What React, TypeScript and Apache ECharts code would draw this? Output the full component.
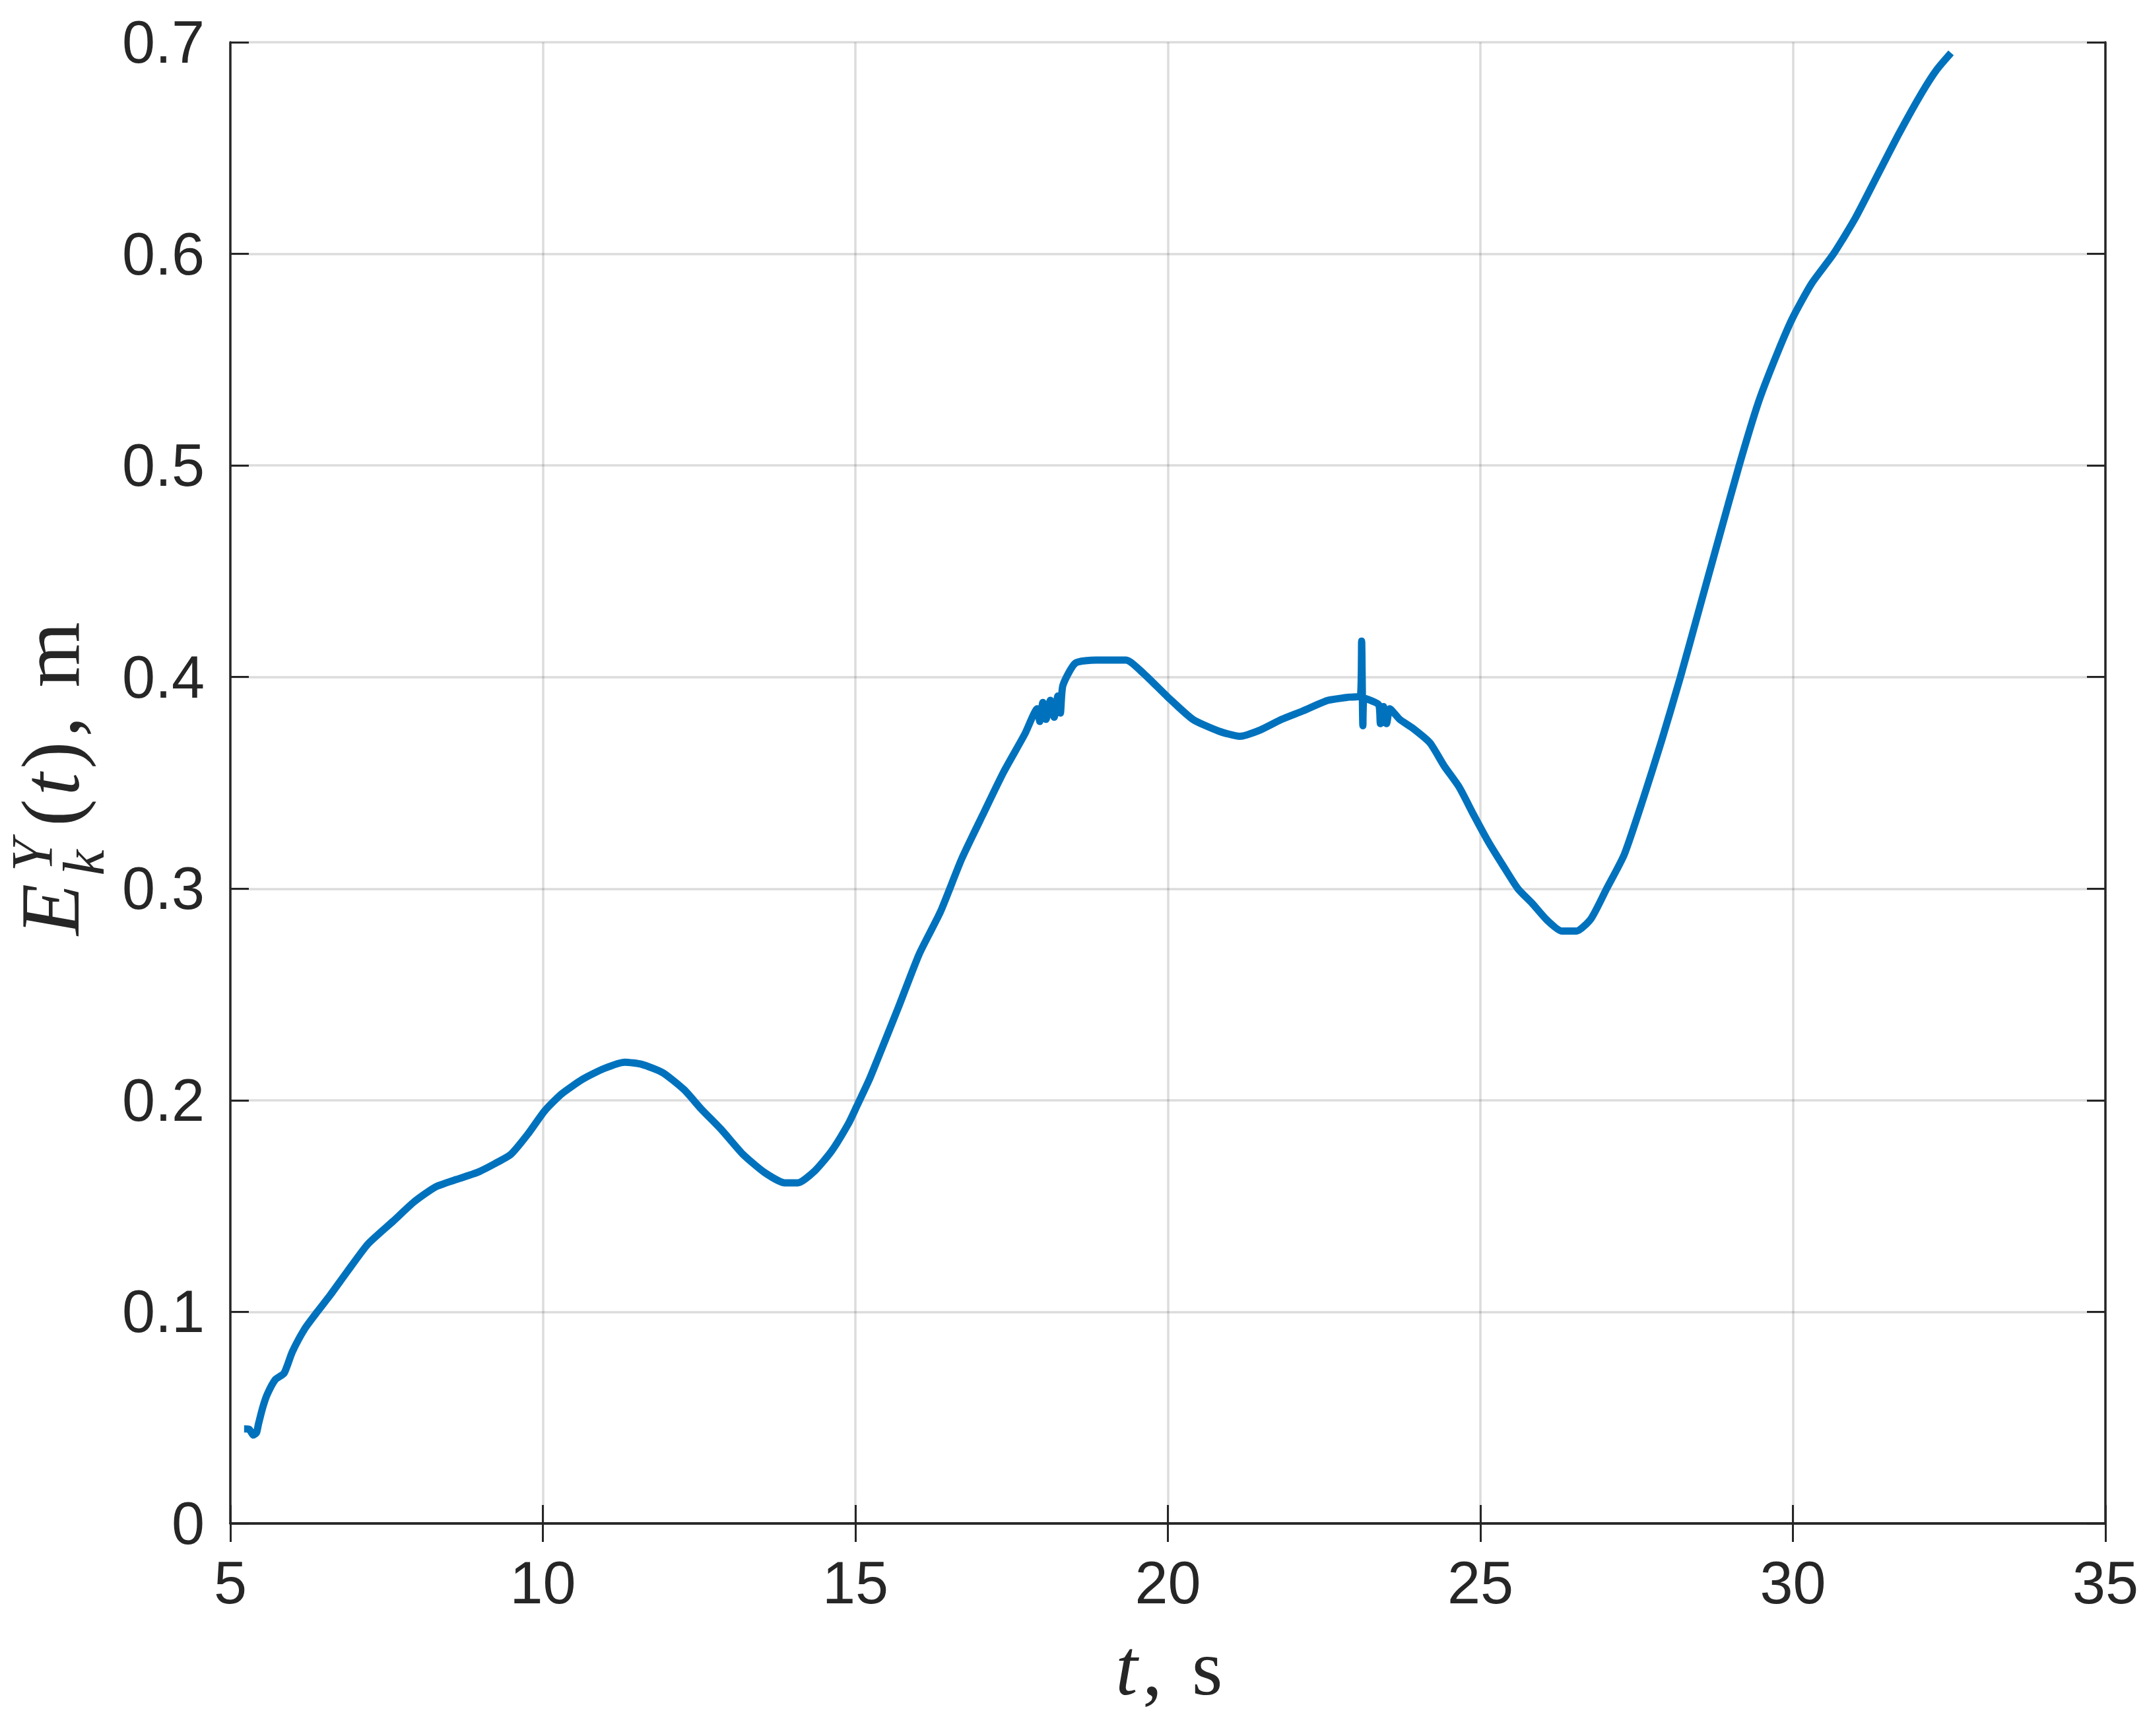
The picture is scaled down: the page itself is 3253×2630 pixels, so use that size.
import React, { useEffect, useRef } from "react";
import * as echarts from "echarts";

const tValues: number[] = [
  5.22, 5.3, 5.37, 5.42, 5.45, 5.52, 5.59, 5.72, 5.86, 5.99, 6.19, 6.39, 6.6, 6.87, 7.2, 7.61, 7.94,
  8.28, 8.62, 8.96, 9.23, 9.49, 9.76, 10.03, 10.3, 10.64, 10.98, 11.31, 11.58, 11.92, 12.26, 12.53,
  12.86, 13.2, 13.54, 13.87, 14.08, 14.35, 14.62, 14.89, 15.02, 15.22, 15.35, 15.69, 16.02, 16.36,
  16.7, 17.04, 17.37, 17.71, 17.91, 17.95, 18.0, 18.05, 18.12, 18.18, 18.24, 18.28, 18.32, 18.52,
  18.85, 19.33, 19.6, 20.0, 20.4, 20.81, 21.15, 21.48, 21.82, 22.16, 22.56, 22.9, 23.08, 23.1, 23.12,
  23.14, 23.37, 23.4, 23.45, 23.5, 23.55, 23.71, 23.91, 24.19, 24.42, 24.66, 24.89, 25.13, 25.36,
  25.6, 25.83, 26.07, 26.3, 26.54, 26.77, 27.02, 27.3, 27.6, 27.9, 28.2, 28.5, 28.8, 29.14, 29.45,
  29.75, 30.0, 30.3, 30.65, 31.0, 31.35, 31.7, 32.06, 32.3, 32.53,
];

const eValues: number[] = [
  0.0447, 0.0445, 0.0418, 0.043, 0.047, 0.055, 0.061, 0.068, 0.071, 0.081, 0.092, 0.1, 0.108, 0.119,
  0.132, 0.143, 0.152, 0.159, 0.1626, 0.166, 0.17, 0.1745, 0.184, 0.195, 0.203, 0.21, 0.215, 0.218,
  0.217, 0.213, 0.205, 0.196, 0.186, 0.1745, 0.166, 0.161, 0.161, 0.1666, 0.176, 0.189, 0.197,
  0.2096, 0.219, 0.244, 0.269, 0.289, 0.314, 0.335, 0.355, 0.373, 0.385, 0.379, 0.388, 0.38, 0.389,
  0.381, 0.391, 0.383, 0.396, 0.4066, 0.408, 0.408, 0.402, 0.3905, 0.38, 0.3745, 0.372, 0.375, 0.38,
  0.384, 0.389, 0.3905, 0.391, 0.417, 0.377, 0.39, 0.387, 0.378, 0.386, 0.378, 0.385, 0.38, 0.376,
  0.369, 0.358, 0.348, 0.335, 0.322, 0.311, 0.3, 0.293, 0.285, 0.28, 0.28, 0.2858, 0.3, 0.316, 0.342,
  0.37, 0.4, 0.432, 0.464, 0.5, 0.53, 0.553, 0.57, 0.586, 0.6, 0.617, 0.637, 0.657, 0.676, 0.687,
  0.695,
];

const xTicks = { min: 5, max: 35, step: 5 };
const yTicks = { min: 0, max: 0.7, step: 0.1 };

const AX = "#262626";
const SERIF = '"Liberation Serif", "Times New Roman", serif';
const SANS = '"Liberation Sans", Arial, Helvetica, sans-serif';

// place text so that its alphabetic baseline sits at b (using middle alignment), centred at x
const mid = (b: number, fs: number) => b - 0.34 * fs;

function txt(text: string, x: number, base: number, fs: number, italic: boolean) {
  return {
    type: "text",
    x,
    y: mid(base, fs),
    style: {
      text,
      fontFamily: SERIF,
      fontSize: fs,
      fontStyle: italic ? "italic" : "normal",
      fill: AX,
      align: "center",
      verticalAlign: "middle",
    },
  };
}

export default function App() {
  const ref = useRef<HTMLDivElement>(null);

  useEffect(() => {
    document.body.style.margin = "0";
    if (!ref.current) return;
    const chart = echarts.init(ref.current, undefined, { renderer: "svg" });
    const data = tValues.map((t, i) => [t, eValues[i]]);

    const tickStyle = { show: true, inside: true, length: 28, lineStyle: { color: AX, width: 3 } };
    const lineStyle = { show: true, lineStyle: { color: AX, width: 3.5 } };
    const gridLine = { show: true, lineStyle: { color: "rgba(38,38,38,0.16)", width: 3.5 } };

    chart.setOption({
      animation: false,
      backgroundColor: "#ffffff",
      grid: { left: 349, top: 64, right: 63, bottom: 322, containLabel: false },
      xAxis: [
        {
          type: "value",
          min: xTicks.min,
          max: xTicks.max,
          interval: xTicks.step,
          position: "bottom",
          axisLine: lineStyle,
          axisTick: tickStyle,
          splitLine: gridLine,
          axisLabel: {
            show: true,
            margin: 45,
            color: AX,
            fontFamily: SANS,
            fontSize: 90,
            formatter: (v: number) => String(v),
          },
        },
        {
          type: "value",
          min: xTicks.min,
          max: xTicks.max,
          interval: xTicks.step,
          position: "top",
          axisLine: lineStyle,
          axisTick: tickStyle,
          splitLine: { show: false },
          axisLabel: { show: false },
        },
      ],
      yAxis: [
        {
          type: "value",
          min: yTicks.min,
          max: yTicks.max,
          interval: yTicks.step,
          position: "left",
          axisLine: lineStyle,
          axisTick: tickStyle,
          splitLine: gridLine,
          axisLabel: {
            show: true,
            margin: 39,
            color: AX,
            fontFamily: SANS,
            fontSize: 90,
            formatter: (v: number) => String(+v.toFixed(1)),
          },
        },
        {
          type: "value",
          min: yTicks.min,
          max: yTicks.max,
          interval: yTicks.step,
          position: "right",
          axisLine: lineStyle,
          axisTick: tickStyle,
          splitLine: { show: false },
          axisLabel: { show: false },
        },
      ],
      series: [
        {
          type: "line",
          xAxisIndex: 0,
          yAxisIndex: 0,
          data,
          showSymbol: false,
          symbol: "none",
          smooth: 0.2,
          lineStyle: { color: "#0072BD", width: 11, join: "round" },
          z: 3,
        },
      ],
      graphic: [
        {
          type: "group",
          x: 120,
          y: 1424,
          rotation: Math.PI / 2,
          children: [
            txt("E", 46, 0, 128, true),
            txt("Y", 128, -42, 88, true),
            txt("k", 117, 37, 88, true),
            txt("(", 193, 0, 124, false),
            txt("t", 236, 0, 124, true),
            txt(")", 280, 0, 124, false),
            txt(",", 323, 0, 124, false),
            txt("m", 432, 0, 128, false),
          ],
        },
        txt("t", 1707, 2567, 120, true),
        txt(",", 1746, 2567, 120, false),
        txt("s", 1829, 2567, 120, false),
      ],
    });

    return () => chart.dispose();
  }, []);

  return <div ref={ref} style={{ width: 3253, height: 2630 }} />;
}
